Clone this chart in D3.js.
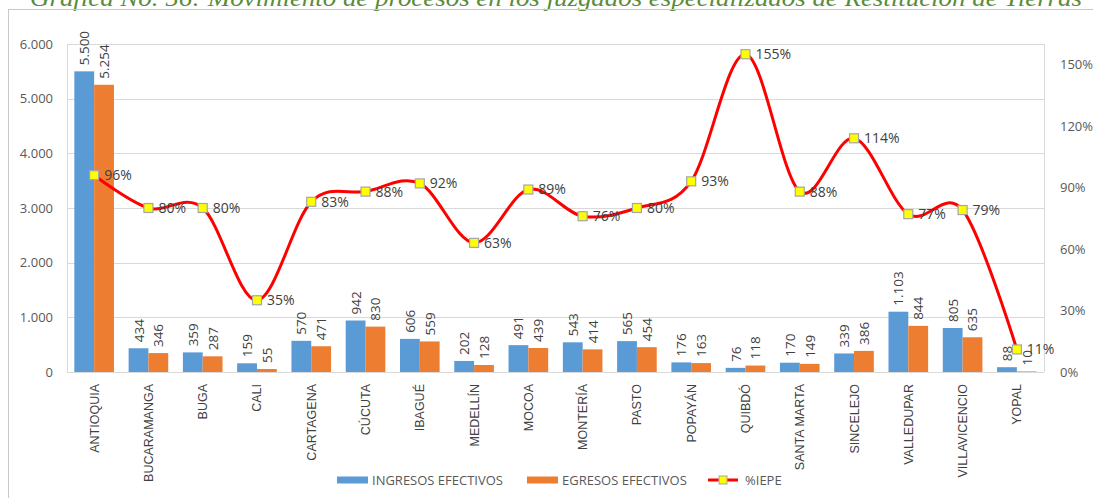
<!DOCTYPE html>
<html>
<head>
<meta charset="utf-8">
<script src="https://cdn.jsdelivr.net/npm/d3@7"></script>
<style>
  body { margin: 0; background: #fff; }
  svg { display: block; }
</style>
</head>
<body>
<svg width="1093" height="498"></svg>
<script>
const svg = d3.select('svg');

const categories = ['ANTIOQUIA', 'BUCARAMANGA', 'BUGA', 'CALI', 'CARTAGENA', 'CÚCUTA', 'IBAGUÉ', 'MEDELLÍN', 'MOCOA',
  'MONTERÍA', 'PASTO', 'POPAYÁN', 'QUIBDÓ', 'SANTA MARTA', 'SINCELEJO', 'VALLEDUPAR', 'VILLAVICENCIO', 'YOPAL'];
const ingresos = [5500, 434, 359, 159, 570, 942, 606, 202, 491, 543, 565, 176, 76, 170, 339, 1103, 805, 88];
const egresos = [5254, 346, 287, 55, 471, 830, 559, 128, 439, 414, 454, 163, 118, 149, 386, 844, 635, 10];
const iepe = [96, 80, 80, 35, 83, 88, 92, 63, 89, 76, 80, 93, 155, 88, 114, 77, 79, 11];
const leftTicks = [0, 1000, 2000, 3000, 4000, 5000, 6000];
const rightTicks = [0, 30, 60, 90, 120, 150];
const seriesNames = ['INGRESOS EFECTIVOS', 'EGRESOS EFECTIVOS', '%IEPE'];

const blue = '#5b9bd5';
const orange = '#ed7d31';
const textCol = '#404040';
const axisCol = '#595959';
const gridCol = '#d9d9d9';

const plot = { left: 67, right: 1044, top: 44, bottom: 372 };

const fmt = d3.formatLocale({ decimal: ',', thousands: '.', grouping: [3], currency: ['$', ''] }).format(',d');

// title, clipped at the top like in the document
svg.append('text')
  .attr('x', 556)
  .attr('y', 6)
  .attr('text-anchor', 'middle')
  .style('font-family', '"Liberation Serif", "DejaVu Serif", serif')
  .style('font-style', 'italic')
  .style('font-size', '24px')
  .style('fill', '#5b8c3a')
  .attr('textLength', 1052)
  .attr('lengthAdjust', 'spacingAndGlyphs')
  .text('Gráfica No. 56: Movimiento de procesos en los juzgados especializados de Restitución de Tierras');

// chart frame
svg.append('rect')
  .attr('x', 8.5).attr('y', 9.5)
  .attr('width', 1100).attr('height', 500)
  .style('fill', 'none')
  .style('stroke', '#c8c8c8');

const x = d3.scaleBand()
  .domain(categories)
  .range([plot.left, plot.right])
  .paddingInner(0.27)
  .paddingOuter(0.135);

const xs = d3.scaleBand()
  .domain([0, 1])
  .range([0, x.bandwidth()]);

const y = d3.scaleLinear().domain([0, 6000]).range([plot.bottom, plot.top]);
const y2 = d3.scaleLinear().domain([0, 160]).range([plot.bottom, plot.top]);

// gridlines
svg.append('g')
  .selectAll('line')
  .data(leftTicks)
  .join('line')
  .attr('x1', plot.left).attr('x2', plot.right)
  .attr('y1', d => Math.round(y(d)) + 0.5)
  .attr('y2', d => Math.round(y(d)) + 0.5)
  .style('stroke', gridCol);

[plot.left, plot.right].forEach(px => {
  svg.append('line')
    .attr('x1', px + 0.5).attr('x2', px + 0.5)
    .attr('y1', plot.top).attr('y2', plot.bottom)
    .style('stroke', gridCol);
});

// left axis
const yAxis = svg.append('g')
  .attr('transform', `translate(${plot.left},0)`)
  .call(d3.axisLeft(y).tickValues(leftTicks).tickSize(0).tickPadding(14).tickFormat(fmt));
yAxis.select('.domain').remove();
yAxis.selectAll('text')
  .style('font-family', '"Open Sans", "Liberation Sans", sans-serif')
  .style('font-size', '13px')
  .style('fill', axisCol);

// right axis
const y2Axis = svg.append('g')
  .attr('transform', `translate(${plot.right},0)`)
  .call(d3.axisRight(y2).tickValues(rightTicks).tickSize(0).tickPadding(16).tickFormat(d => d + '%'));
y2Axis.select('.domain').remove();
y2Axis.selectAll('text')
  .style('font-family', '"Open Sans", "Liberation Sans", sans-serif')
  .style('font-size', '13px')
  .style('fill', axisCol);

// bars
const rows = categories.map((c, i) => ({ c, vals: [ingresos[i], egresos[i]], p: iepe[i] }));

const groups = svg.append('g')
  .selectAll('g')
  .data(rows)
  .join('g')
  .attr('transform', d => `translate(${x(d.c)},0)`);

groups.selectAll('rect')
  .data(d => d.vals)
  .join('rect')
  .attr('x', (v, j) => xs(j))
  .attr('width', xs.bandwidth())
  .attr('y', v => y(v))
  .attr('height', v => plot.bottom - y(v))
  .style('fill', (v, j) => j === 0 ? blue : orange);

groups.selectAll('text')
  .data(d => d.vals)
  .join('text')
  .attr('transform', (v, j) => `translate(${xs(j) + xs.bandwidth() / 2 + 5},${y(v) - 6}) rotate(-90)`)
  .style('font-family', '"Open Sans", "Liberation Sans", sans-serif')
  .style('font-size', '13.5px')
  .style('fill', textCol)
  .text(v => fmt(v));

// bottom axis line
svg.append('line')
  .attr('x1', plot.left).attr('x2', plot.right)
  .attr('y1', plot.bottom + 0.5).attr('y2', plot.bottom + 0.5)
  .style('stroke', gridCol);

// category labels
svg.append('g')
  .selectAll('text')
  .data(categories)
  .join('text')
  .attr('transform', d => `translate(${x(d) + x.bandwidth() / 2 + 4.5},${plot.bottom + 12}) rotate(-90)`)
  .attr('text-anchor', 'end')
  .style('font-family', '"Liberation Sans", Arial, sans-serif')
  .style('font-size', '12.5px')
  .style('fill', textCol)
  .text(d => d);

// %IEPE line
const cx = d => x(d.c) + x.bandwidth() / 2;
const line = d3.line()
  .x(cx)
  .y(d => y2(d.p))
  .curve(d3.curveCatmullRom.alpha(0));

svg.append('path')
  .datum(rows)
  .attr('d', line)
  .style('fill', 'none')
  .style('stroke', '#ff0000')
  .style('stroke-width', 3);

svg.append('g')
  .selectAll('rect')
  .data(rows)
  .join('rect')
  .attr('x', d => cx(d) - 4.5)
  .attr('y', d => y2(d.p) - 4.5)
  .attr('width', 9)
  .attr('height', 9)
  .style('fill', '#ffff00')
  .style('stroke', '#a5a5a5')
  .style('stroke-width', 1.2);

svg.append('g')
  .selectAll('text')
  .data(rows)
  .join('text')
  .attr('x', d => cx(d) + 10)
  .attr('y', d => y2(d.p))
  .attr('dy', '0.35em')
  .style('font-family', '"Open Sans", "Liberation Sans", sans-serif')
  .style('font-size', '14px')
  .style('fill', textCol)
  .text(d => d.p + '%');

// legend
const legend = svg.append('g').attr('transform', 'translate(0,480)');
const legendX = [337, 527, 708];
seriesNames.forEach((name, i) => {
  const g = legend.append('g').attr('transform', `translate(${legendX[i]},0)`);
  if (i < 2) {
    g.append('rect')
      .attr('x', 0).attr('y', -3.5)
      .attr('width', 31).attr('height', 7)
      .style('fill', i === 0 ? blue : orange);
  } else {
    g.append('line')
      .attr('x1', 0).attr('x2', 30)
      .attr('y1', 0).attr('y2', 0)
      .style('stroke', '#ff0000')
      .style('stroke-width', 3);
    g.append('rect')
      .attr('x', 11).attr('y', -4)
      .attr('width', 8).attr('height', 8)
      .style('fill', '#ffff00')
      .style('stroke', '#a5a5a5');
  }
  g.append('text')
    .attr('x', i < 2 ? 35 : 37)
    .attr('y', 0)
    .attr('dy', '0.35em')
    .style('font-family', '"Open Sans", "Liberation Sans", sans-serif')
    .style('font-size', '13px')
    .style('fill', axisCol)
    .text(name);
});
</script>
</body>
</html>
